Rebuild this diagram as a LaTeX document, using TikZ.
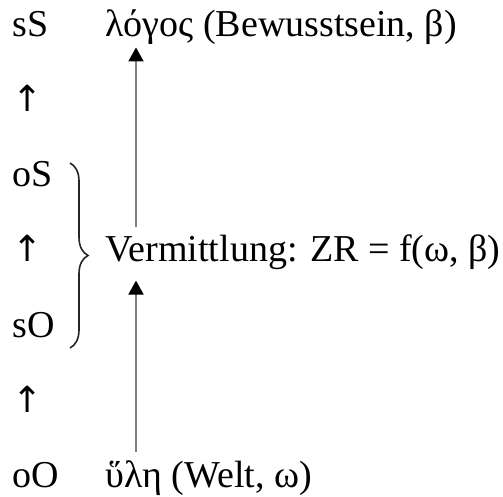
\documentclass[tikz,border=0pt]{standalone}
\usepackage{fontspec}
\setmainfont{Liberation Serif}
\newfontfamily\arrowfont{DejaVu Sans}
\usetikzlibrary{positioning,arrows.meta,decorations.pathreplacing}

\begin{document}
\begin{tikzpicture}[x=0.5pt,y=-0.5pt,
 lbl/.style={anchor=base west,inner sep=0pt,font=\fontsize{19}{23}\selectfont},
 uparr/.style={anchor=base west,inner sep=0pt,font=\arrowfont\fontsize{18}{20}\selectfont},
 arr/.style={draw=black!50,line width=1pt,-{Triangle[length=7pt,width=7.5pt,fill=black,color=black]}},
 brc/.style={decorate,decoration={brace,amplitude=9pt},line width=0.8pt,draw=black!85}]
\useasboundingbox (0,0) rectangle (503,497);
% left column
\node[lbl] (sS) at (12,37) {sS};
\node[uparr] (up1) at (12,112) {↑};
\node[lbl] (oS) at (12,187) {oS};
\node[uparr] (up2) at (12,262) {↑};
\node[lbl] (sO) at (12,337) {sO};
\node[uparr] (up3) at (12,412) {↑};
\node[lbl] (oO) at (12,487) {oO};
% right column
\node[lbl] (logos) at (105,37) {λόγος (Bewusstsein, β)};
\node[lbl] (verm) at (105,262) {Vermittlung: ZR = f(ω, β)};
\node[lbl] (hyle) at (105,487) {ὕλη (Welt, ω)};
\coordinate (btop) at (70,163);
\coordinate (bbot) at (70,348);
\draw[brc] (btop) -- (bbot);
\draw[arr] ([shift={(31,-8)}]verm.north west) -- ([shift={(31,2)}]logos.south west);
\draw[arr] ([shift={(31,-8)}]hyle.north west) -- ([shift={(31,10)}]verm.south west);
\end{tikzpicture}
\end{document}
